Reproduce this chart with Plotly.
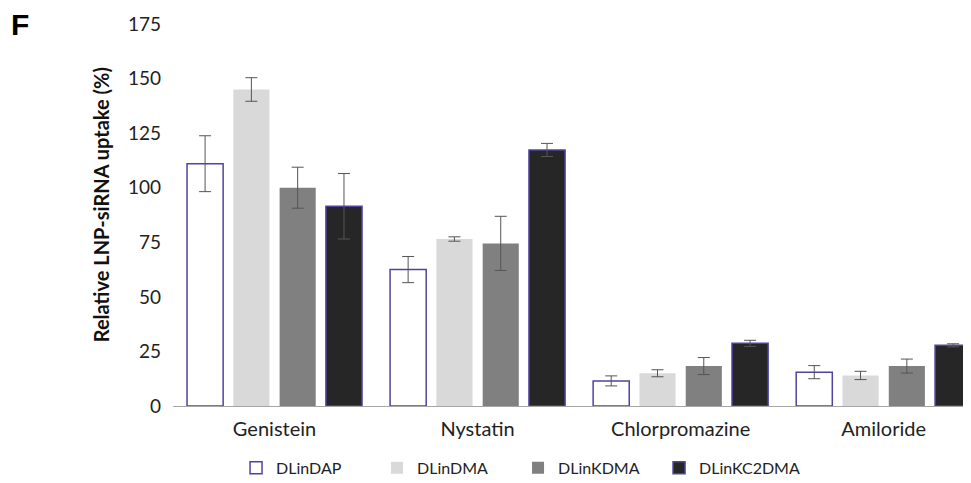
import plotly.graph_objects as go

categories = ["Genistein", "Nystatin", "Chlorpromazine", "Amiloride"]
series_names = ["DLinDAP", "DLinDMA", "DLinKDMA", "DLinKC2DMA"]

dlindap = [111, 62.5, 11.5, 15.5]
dlindap_err = [12.8, 6.0, 2.3, 3.0]
dlindma = [145, 76.5, 15.0, 14.0]
dlindma_err = [5.4, 1.0, 1.6, 1.9]
dlinkdma = [100, 74.5, 18.3, 18.3]
dlinkdma_err = [9.4, 12.4, 3.9, 3.2]
dlinkc2dma = [91.5, 117.3, 28.7, 27.8]
dlinkc2dma_err = [15.0, 3.0, 1.4, 0.7]

tick_vals = [0, 25, 50, 75, 100, 125, 150, 175]

values = [dlindap, dlindma, dlinkdma, dlinkc2dma]
errors = [dlindap_err, dlindma_err, dlinkdma_err, dlinkc2dma_err]
fills = ["#ffffff", "#d9d9d9", "#808080", "#262626"]
outlines = ["#4e44a0", "#d9d9d9", "#808080", "#4e44a0"]
outline_w = [1.5, 0, 0, 1.5]

FONT = "Lato"

fig = go.Figure()
for name, v, e, fc, lc, lw in zip(series_names, values, errors, fills, outlines, outline_w):
    fig.add_trace(go.Bar(
        name=name, x=categories, y=v,
        marker=dict(color=fc, line=dict(color=lc, width=lw)),
        error_y=dict(type="data", array=e, visible=True, color="#555555",
                     thickness=1, width=6),
    ))

# page body adds ~8px offset; figure sized to fill the rest of the window
fig.update_layout(
    width=963, height=475,
    barmode="group", bargap=0.088, bargroupgap=0.22,
    plot_bgcolor="white", paper_bgcolor="white",
    margin=dict(l=165, r=0, t=16, b=77, autoexpand=False),
    font=dict(family=FONT, size=19, color="#222222"),
    showlegend=True,
    legend=dict(orientation="h", x=0.079, xanchor="left", yref="container", y=0.032, yanchor="middle",
                font=dict(family=FONT, size=16, color="#222222"),
                itemwidth=30, traceorder="normal",
                entrywidth=96, entrywidthmode="pixels"),
)
fig.update_xaxes(
    range=[-0.5, 3.43], showline=True, linecolor="#a6a6a6", linewidth=1,
    ticks="", showgrid=False, tickfont=dict(family=FONT, size=20), automargin=False,
    ticklabelstandoff=5,
)
fig.update_yaxes(
    range=[0, 175], tickvals=tick_vals, showline=False, showgrid=False,
    zeroline=False, ticks="", ticklabelstandoff=11, automargin=False,
    tickfont=dict(family=FONT, size=19),
)
fig.add_annotation(
    text="<b>Relative LNP-siRNA uptake (%)</b>", textangle=-90,
    xref="paper", yref="paper", x=-0.090, y=0.526, xanchor="center", yanchor="middle",
    showarrow=False, font=dict(family=FONT, size=20, color="#111111"),
)
fig.add_annotation(
    text="<b>F</b>", xref="paper", yref="paper", x=-0.192, y=0.998,
    xanchor="center", yanchor="middle", showarrow=False,
    font=dict(family="Liberation Sans", size=30, color="#000000"),
)

fig.write_html("out.html")
